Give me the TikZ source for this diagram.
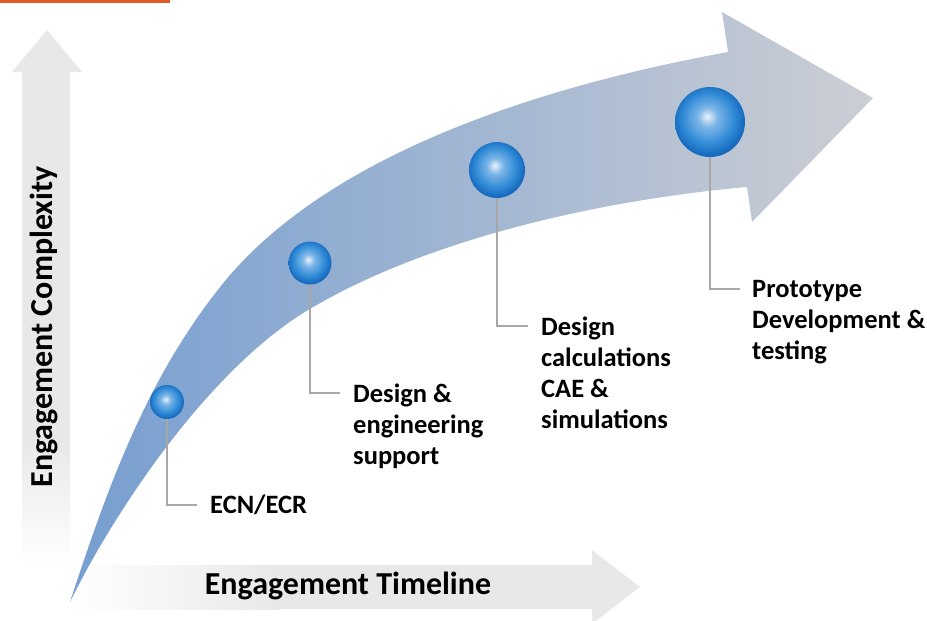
\documentclass[tikz,border=0pt]{standalone}
\usepackage{fontspec}
\setmainfont{Carlito}
\usepackage{tikz}
\usetikzlibrary{positioning}
\definecolor{BandBlue}{RGB}{118,158,208}
\definecolor{BandMid}{RGB}{165,182,206}
\definecolor{BandGray}{RGB}{204,206,212}
\definecolor{AxisGray}{RGB}{232,232,232}
\definecolor{LeadGray}{RGB}{168,168,168}
\definecolor{TopOrange}{RGB}{226,88,38}
\definecolor{BallLight}{RGB}{235,242,250}
\definecolor{BallMid}{RGB}{125,182,232}
\definecolor{BallDeep}{RGB}{50,140,215}
\definecolor{BallEdge}{RGB}{24,108,192}
\pgfdeclareradialshading{ballshade}{\pgfpoint{-2bp}{4bp}}{%
  color(0bp)=(BallLight); color(7bp)=(BallMid); color(18bp)=(BallDeep);
  color(25bp)=(BallEdge); color(50bp)=(BallEdge)}
\tikzset{
  ball node/.style={circle, inner sep=0pt, shading=ballshade},
  step label/.style={font=\bfseries\fontsize{26.5}{31}\selectfont,
                     align=left, inner sep=0pt},
  axis label/.style={font=\bfseries\fontsize{32}{36}\selectfont, inner sep=0pt},
  leader line/.style={draw=LeadGray, line width=1.4pt},
}

\begin{document}
\begin{tikzpicture}[x=1pt, y=-1pt]
  \useasboundingbox (0,0) rectangle (927,621);
  % orange rule
  \draw[TopOrange, line width=3pt] (0,1) -- (170,1);
  % complexity axis
  \fill[AxisGray] (22,440) -- (22,72) -- (12,72) -- (47,30) -- (82,72)
    -- (70,72) -- (70,440) -- cycle;
  \shade[top color=AxisGray, bottom color=white] (22,440) rectangle (70,565);
  % timeline axis
  \shade[left color=white, right color=AxisGray] (70,565) rectangle (280,609);
  \fill[AxisGray] (280,565) -- (592,565) -- (592,550) -- (640,587)
    -- (592,624) -- (592,609) -- (280,609) -- cycle;
  % curved band
  \shade[left color=BandBlue, middle color=BandMid, right color=BandGray]
    (70,602) .. controls (110,480) and (150,370) .. (230,275)
    .. controls (330,160) and (520,90) .. (728,52)
    -- (722,12) -- (873,98) -- (752,222) -- (747,187)
    .. controls (600,200) and (420,240) .. (300,315)
    .. controls (200,380) and (110,520) .. (70,602) -- cycle;
  % spheres
  \node[ball node, minimum size=34pt] (b1) at (167,402) {};
  \node[ball node, minimum size=43pt] (b2) at (310,263) {};
  \node[ball node, minimum size=56pt] (b3) at (497,170) {};
  \node[ball node, minimum size=70pt] (b4) at (710,122) {};
  % elbows
  \coordinate (e1) at (197,505);
  \coordinate (e2) at (340,393);
  \coordinate (e3) at (528,326);
  \coordinate (e4) at (740,289);
  \draw[leader line] (b1.south) |- (e1);
  \draw[leader line] (b2.south) |- (e2);
  \draw[leader line] (b3.south) |- (e3);
  \draw[leader line] (b4.south) |- (e4);
  % labels
  \node[step label, right=13pt of e1] (l1) {ECN/ECR};
  \node[step label, below right=-9pt and 13pt of e2] (l2)
    {Design \&\\engineering\\support};
  \node[step label, below right=-9pt and 13pt of e3] (l3)
    {Design\\calculations\\CAE \&\\simulations};
  \node[step label, below right=-9pt and 12pt of e4] (l4)
    {Prototype\\Development \&\\testing};
  \node[axis label, rotate=90] (yl) at (44,327) {Engagement Complexity};
  \node[axis label] (xl) at (348,586) {Engagement Timeline};
\end{tikzpicture}
\end{document}
